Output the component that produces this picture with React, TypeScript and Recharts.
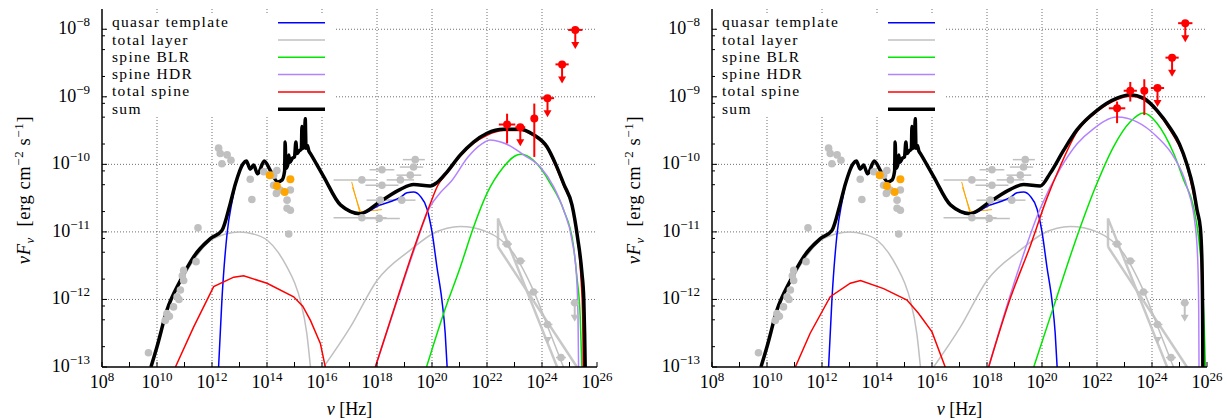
import {
  CartesianGrid,
  ComposedChart,
  ErrorBar,
  Line,
  Scatter,
  XAxis,
  YAxis,
} from 'recharts'

// all values are log10: x = log10(nu / Hz), y = log10(nu F_nu / erg cm^-2 s^-1)
type XY = [number, number]

const FONT = '"Liberation Serif", "Times New Roman", serif'

const xTicks = [8, 9, 10, 11, 12, 13, 14, 15, 16, 17, 18, 19, 20, 21, 22, 23, 24, 25, 26]
const xGrid = [10, 12, 14, 16, 18, 20, 22, 24]
const yMajor = [-13, -12, -11, -10, -9, -8]
const yGrid = [-12, -11, -10, -9, -8]
const yMinorMantissa = [2, 5, 8]
const yTicks = yMajor
  .flatMap((m) => [m, ...yMinorMantissa.map((k) => m + Math.log10(k))])
  .filter((v) => v < -7.75)

const legendNames = ['quasar template', 'total layer', 'spine BLR', 'spine HDR', 'total spine', 'sum']
const legendColors = ['#0000ff', '#c0c0c0', '#00e600', '#b482ff', '#ff0000', '#000000']

// shared model curves (same in both panels)
const quasarTemplate: XY[] = [
  [12.24, -13.0], [12.36, -12.01], [12.55, -11.02], [12.73, -10.55], [12.85, -10.31], [13.13, -10.01],
  [13.25, -9.97], [13.39, -10.08], [13.51, -10.03], [13.66, -10.15], [13.9, -9.96], [14.12, -10.1],
  [14.39, -10.27], [14.55, -10.24], [14.64, -10.11], [14.66, -9.69], [14.69, -10.07], [14.76, -10.01],
  [14.79, -9.87], [14.83, -9.98], [14.92, -9.92], [15.0, -9.9], [15.05, -9.68], [15.09, -9.85],
  [15.17, -9.81], [15.25, -9.78], [15.27, -9.45], [15.3, -9.77], [15.36, -9.75], [15.39, -9.33],
  [15.42, -9.77], [15.47, -9.73], [15.52, -9.81], [15.58, -9.85], [16.06, -10.19], [16.67, -10.61],
  [17.39, -10.74], [18.12, -10.6], [18.5, -10.55], [18.85, -10.49], [19.09, -10.42], [19.33, -10.41],
  [19.57, -10.47], [19.82, -10.66], [20.0, -11.0], [20.18, -11.52], [20.36, -12.01], [20.48, -12.5],
  [20.55, -13.0],
]
const layerSync: XY[] = [
  [9.78, -13.02], [10.0, -12.72], [10.36, -12.18], [10.85, -11.75], [11.33, -11.42], [11.94, -11.13],
  [12.5, -11.03], [13.0, -11.0], [13.5, -11.03], [14.0, -11.12], [14.4, -11.3], [14.73, -11.52],
  [15.0, -11.75], [15.21, -12.01], [15.45, -12.51], [15.58, -13.0],
]
const layerIC: XY[] = [
  [16.06, -13.0], [17.03, -12.41], [18.0, -11.72], [19.21, -11.27], [20.06, -11.02], [21.03, -10.92],
  [22.0, -11.0], [22.97, -11.32], [23.69, -11.87], [24.3, -12.5], [24.78, -13.0],
]
const sumShared: XY[] = [
  [9.78, -13.0], [10.0, -12.7], [10.36, -12.16], [10.85, -11.72], [11.33, -11.37], [11.94, -11.1],
  [12.36, -10.98], [12.67, -10.57], [12.85, -10.29], [13.13, -9.99], [13.25, -9.95], [13.39, -10.07],
  [13.51, -10.01], [13.66, -10.14], [13.9, -9.95], [14.12, -10.09], [14.39, -10.26], [14.55, -10.23],
  [14.64, -10.1], [14.66, -9.67], [14.69, -10.06], [14.76, -10.0], [14.79, -9.86], [14.83, -9.97],
  [14.92, -9.91], [15.0, -9.89], [15.05, -9.67], [15.09, -9.84], [15.17, -9.8], [15.25, -9.77],
  [15.27, -9.44], [15.3, -9.76], [15.36, -9.74], [15.39, -9.32], [15.42, -9.76], [15.47, -9.72],
  [15.52, -9.8], [15.58, -9.84], [16.06, -10.18], [16.67, -10.6], [17.39, -10.73], [18.12, -10.55],
  [18.85, -10.37], [19.33, -10.3], [19.94, -10.32],
]

// left panel
const sumHighA: XY[] = [
  [20.18, -10.27], [20.55, -10.11], [21.03, -9.86], [21.51, -9.67], [22.0, -9.54], [22.6, -9.48],
  [23.21, -9.48], [23.69, -9.56], [24.18, -9.74], [24.5, -10.0], [24.8, -10.3], [25.09, -10.6],
  [25.3, -11.1], [25.45, -11.6], [25.52, -12.0], [25.55, -12.5], [25.57, -13.0],
]
const spineLowA: XY[] = [
  [10.67, -13.0], [11.33, -12.41], [12.06, -11.81], [12.79, -11.67], [13.15, -11.65], [14.0, -11.76],
  [14.97, -11.96], [15.3, -12.1], [15.58, -12.31], [15.94, -12.65], [16.12, -13.0],
]
const spineHighA: XY[] = [
  [17.94, -13.0], [18.73, -12.0], [19.33, -11.26], [19.94, -10.58], [20.2, -10.32], [20.55, -10.13],
  [21.03, -9.88], [21.51, -9.69], [22.0, -9.57], [22.6, -9.5], [23.21, -9.5], [23.69, -9.58],
  [24.18, -9.76], [24.5, -10.03], [24.8, -10.33], [25.09, -10.62], [25.3, -11.12], [25.42, -11.7],
  [25.48, -12.3], [25.5, -13.0],
]
const hdrA: XY[] = [
  [17.94, -13.0], [18.73, -12.02], [19.33, -11.29], [19.94, -10.62], [20.3, -10.42], [20.7, -10.25],
  [21.31, -9.89], [21.8, -9.7], [22.12, -9.64], [22.5, -9.67], [22.9, -9.74], [23.33, -9.86],
  [23.94, -10.04], [24.42, -10.33], [24.79, -10.68], [25.09, -11.12], [25.25, -11.62], [25.31, -12.26],
  [25.33, -13.0],
]
const blrA: XY[] = [
  [19.8, -13.0], [20.42, -12.21], [21.03, -11.52], [21.51, -10.93], [22.0, -10.43], [22.6, -10.04],
  [23.0, -9.88], [23.21, -9.85], [23.45, -9.87], [23.69, -9.94], [24.3, -10.28], [24.79, -10.68],
  [25.13, -11.17], [25.27, -11.67], [25.39, -12.26], [25.45, -13.0],
]
// red gamma-ray points: x, y, x-err, y-err low, y-err high
const redPtsA: [number, number, number, number, number][] = [
  [22.73, -9.41, 0.3, 0.28, 0.16],
  [23.72, -9.32, 0.12, 0.57, 0.22],
]
const redUlA: [number, number, number][] = [
  [23.21, -9.45, 0.18], [24.2, -9.02, 0.24], [24.73, -8.52, 0.24], [25.21, -8.01, 0.26],
]

// right panel
const sumHighB: XY[] = [
  [20.3, -10.13], [20.79, -9.79], [21.27, -9.49], [22.0, -9.2], [22.73, -9.02], [23.21, -8.97],
  [23.69, -9.02], [24.18, -9.2], [24.67, -9.47], [25.0, -9.7], [25.27, -10.0], [25.5, -10.35],
  [25.64, -10.68], [25.76, -10.95], [25.82, -11.5], [25.84, -12.2], [25.85, -13.0],
]
const spineLowB: XY[] = [
  [11.03, -13.0], [11.57, -12.5], [12.3, -11.96], [13.03, -11.76], [13.4, -11.72], [14.24, -11.84],
  [15.09, -12.01], [15.5, -12.2], [16.0, -12.48], [16.48, -13.0],
]
const spineHighB: XY[] = [
  [18.06, -13.0], [18.85, -11.98], [19.58, -11.2], [20.18, -10.5], [20.67, -10.02], [21.27, -9.52],
  [22.0, -9.22], [22.73, -9.04], [23.21, -8.99], [23.69, -9.04], [24.18, -9.22], [24.67, -9.5],
  [25.27, -10.03], [25.64, -10.72], [25.76, -11.0], [25.8, -11.6], [25.82, -12.3], [25.83, -13.0],
]
const hdrB: XY[] = [
  [18.06, -13.0], [18.85, -11.93], [19.94, -10.65], [20.67, -10.06], [21.27, -9.7], [21.88, -9.47],
  [22.73, -9.3], [23.45, -9.37], [24.18, -9.59], [24.79, -9.89], [25.27, -10.33], [25.58, -10.93],
  [25.67, -11.5], [25.7, -12.2], [25.71, -13.0],
]
const blrB: XY[] = [
  [19.7, -13.0], [20.42, -12.11], [21.27, -11.07], [22.0, -10.28], [22.6, -9.74], [23.21, -9.37],
  [23.69, -9.24], [24.18, -9.39], [24.79, -9.84], [25.15, -10.23], [25.51, -10.63], [25.69, -11.07],
  [25.82, -11.67], [25.9, -12.41], [25.94, -13.0],
]
const redPtsB: [number, number, number, number, number][] = [
  [22.73, -9.17, 0.3, 0.22, 0.1],
  [23.21, -8.91, 0.24, 0.16, 0.13],
  [23.72, -8.91, 0.12, 0.36, 0.17],
]
const redUlB: [number, number, number][] = [
  [24.2, -8.87, 0.24], [24.73, -8.42, 0.24], [25.21, -7.91, 0.26],
]

// archival data (same in both panels)
const grayPts: XY[] = [
  [9.69, -12.79], [10.3, -12.31], [10.36, -12.21], [10.45, -12.25], [10.6, -12.11], [10.73, -11.96],
  [10.8, -12.0], [10.85, -11.86], [10.92, -11.65], [10.97, -11.72], [10.97, -11.57], [11.42, -11.44],
  [11.49, -10.94], [12.24, -9.76], [12.3, -9.84], [12.36, -9.99], [12.55, -9.86], [12.69, -9.94],
  [13.39, -10.22], [13.45, -10.52], [13.88, -10.11], [14.24, -10.16], [14.36, -10.09], [14.24, -10.31],
  [14.34, -10.43], [14.48, -10.38], [14.85, -10.38], [14.73, -10.53], [14.73, -10.65], [14.85, -10.68],
  [14.79, -11.03],
]
const orangePts: XY[] = [[14.1, -10.16], [14.36, -10.32], [14.64, -10.41], [14.85, -10.22]]
const orangeBowA: XY[] = [[17.08, -10.26], [17.38, -10.72], [18.18, -10.6]]
const orangeBowB: XY[] = [[17.11, -10.34], [17.4, -10.7], [18.18, -10.67]]
// x-ray points: x, y, x-err low, x-err high
const xrayPts: [number, number, number, number][] = [
  [17.45, -10.23, 1.03, 0.55], [17.45, -10.79, 1.03, 0.9], [18.08, -10.8, 0.6, 0.75],
  [18.18, -10.08, 0.45, 0.45], [18.18, -10.31, 0.6, 0.6], [18.12, -10.53, 0.5, 0.5],
  [18.85, -10.23, 0.5, 0.5], [18.9, -10.53, 0.5, 0.5], [19.21, -10.16, 0.5, 0.4],
  [19.33, -10.04, 0.5, 0.35], [19.39, -9.93, 0.45, 0.35],
]
const gammaPts: [number, number, number][] = [
  [22.73, -11.18, 0.18], [23.21, -11.43, 0.18], [23.69, -11.89, 0.18], [24.2, -12.37, 0.18], [24.69, -12.86, 0.18],
]
const gammaUl: [number, number, number][] = [[25.19, -12.05, 0.15]]
const gammaTri: XY[] = [[24.2, -12.6]]
const bowtieUpper: XY[] = [[22.4, -11.22], [22.4, -10.8], [24.55, -13.0]]
const bowtieLower: XY[] = [[22.4, -11.22], [25.27, -13.0]]

const toPts = (a: XY[]) => a.map(([x, y]) => ({ x, y }))

function BottomTick(p: any) {
  const v = p.payload.value
  return (
    <g>
      <line x1={p.x} y1={p.y} x2={p.x} y2={p.y - 5} stroke="#000" />
      {v % 2 === 0 ? (
        <text x={p.x} y={p.y + 21} textAnchor="middle" fontFamily={FONT} fontSize={18} fill="#000">
          10<tspan dy={-7} fontSize={13}>{v}</tspan>
        </text>
      ) : null}
    </g>
  )
}

function TopTick(p: any) {
  return <line x1={p.x} y1={p.y} x2={p.x} y2={p.y + 5} stroke="#000" />
}

function LeftTick(p: any) {
  const v = p.payload.value
  const major = Number.isInteger(v)
  return (
    <g>
      <line x1={p.x} y1={p.y} x2={p.x + (major ? 5 : 3)} y2={p.y} stroke="#000" />
      {major ? (
        <text x={p.x - 12} y={p.y + 5} textAnchor="end" fontFamily={FONT} fontSize={18} fill="#000">
          10<tspan dy={-8} fontSize={13}>{'\u2212' + Math.abs(v)}</tspan>
        </text>
      ) : null}
    </g>
  )
}

function RightTick(p: any) {
  const major = Number.isInteger(p.payload.value)
  return <line x1={p.x} y1={p.y} x2={p.x - (major ? 5 : 3)} y2={p.y} stroke="#000" />
}

function dotShape(color: string, r: number) {
  return (p: any) => <circle cx={p.cx} cy={p.cy} r={r} fill={color} />
}

function ulShape(color: string, r: number) {
  return (p: any) => (
    <g>
      <line x1={p.cx} y1={p.cy} x2={p.cx} y2={p.cy + 14} stroke={color} strokeWidth={2} />
      <path d={`M${p.cx - 4},${p.cy + 12} L${p.cx + 4},${p.cy + 12} L${p.cx},${p.cy + 19} Z`} fill={color} />
      <circle cx={p.cx} cy={p.cy} r={r} fill={color} />
    </g>
  )
}

function triShape(color: string) {
  return (p: any) => (
    <path d={`M${p.cx - 4},${p.cy - 3} L${p.cx + 4},${p.cy - 3} L${p.cx},${p.cy + 4} Z`} fill={color} />
  )
}

function curve(data: XY[], color: string, width: number, type: 'monotone' | 'linear' = 'monotone') {
  return (
    <Line
      data={toPts(data)}
      dataKey="y"
      type={type}
      stroke={color}
      strokeWidth={width}
      dot={false}
      activeDot={false}
      isAnimationActive={false}
    />
  )
}

type PanelProps = {
  left: number
  width: number
  marginRight: number
  sumHigh: XY[]
  spineLow: XY[]
  spineHigh: XY[]
  hdr: XY[]
  blr: XY[]
  redPts: [number, number, number, number, number][]
  redUl: [number, number, number][]
}

function Panel(props: PanelProps) {
  const { left, width, marginRight } = props
  const plotLeft = 102
  const plotRight = width - marginRight
  const sum = [...sumShared, ...props.sumHigh]
  const gray = '#c0c0c0'

  return (
    <div style={{ position: 'absolute', left, top: 0, width, height: 420 }}>
      <ComposedChart width={width} height={420} margin={{ top: 9, right: marginRight, bottom: 0, left: 0 }}>
        <CartesianGrid
          stroke="#6e6e6e"
          strokeDasharray="1 2"
          verticalValues={xGrid}
          horizontalValues={yGrid}
        />
        <XAxis
          type="number"
          dataKey="x"
          domain={[8, 26]}
          ticks={xTicks}
          interval={0}
          allowDataOverflow
          height={53}
          tickSize={0}
          tickMargin={0}
          tickLine={false}
          axisLine={{ stroke: '#000', strokeWidth: 1.5 }}
          tick={BottomTick}
        />
        <XAxis
          xAxisId="t"
          orientation="top"
          type="number"
          dataKey="x"
          domain={[8, 26]}
          ticks={xTicks}
          interval={0}
          allowDataOverflow
          height={0}
          tickSize={0}
          tickMargin={0}
          tickLine={false}
          axisLine={{ stroke: '#000', strokeWidth: 1.5 }}
          tick={TopTick}
        />
        <YAxis
          type="number"
          domain={[-13, -7.7]}
          ticks={yTicks}
          interval={0}
          allowDataOverflow
          width={plotLeft}
          tickSize={0}
          tickMargin={0}
          tickLine={false}
          axisLine={{ stroke: '#000', strokeWidth: 1.5 }}
          tick={LeftTick}
        />
        <YAxis
          yAxisId="r"
          orientation="right"
          type="number"
          domain={[-13, -7.7]}
          ticks={yTicks}
          interval={0}
          allowDataOverflow
          width={0}
          tickSize={0}
          tickMargin={0}
          tickLine={false}
          axisLine={{ stroke: '#000', strokeWidth: 1.5 }}
          tick={RightTick}
        />

        <Scatter data={toPts(grayPts)} dataKey="y" shape={dotShape(gray, 3.8)} isAnimationActive={false} />
        <Scatter
          data={xrayPts.map(([x, y, lo, hi]) => ({ x, y, ex: [lo, hi] }))}
          dataKey="y"
          shape={dotShape(gray, 3.8)}
          isAnimationActive={false}
        >
          <ErrorBar dataKey="ex" direction="x" width={0} stroke={gray} strokeWidth={1.5} />
        </Scatter>
        {curve(bowtieUpper, '#c8c8c8', 2.5, 'linear')}
        {curve(bowtieLower, '#c8c8c8', 2.5, 'linear')}
        <Scatter
          data={gammaPts.map(([x, y, e]) => ({ x, y, ex: e }))}
          dataKey="y"
          shape={dotShape(gray, 3.8)}
          isAnimationActive={false}
        >
          <ErrorBar dataKey="ex" direction="x" width={0} stroke={gray} strokeWidth={1.5} />
        </Scatter>
        <Scatter
          data={gammaUl.map(([x, y, e]) => ({ x, y, ex: e }))}
          dataKey="y"
          shape={ulShape(gray, 3.8)}
          isAnimationActive={false}
        >
          <ErrorBar dataKey="ex" direction="x" width={0} stroke={gray} strokeWidth={1.5} />
        </Scatter>
        <Scatter data={toPts(gammaTri)} dataKey="y" shape={triShape(gray)} isAnimationActive={false} />
        <Scatter data={toPts(orangePts)} dataKey="y" shape={dotShape('#ffa500', 4)} isAnimationActive={false} />
        {curve(orangeBowA, '#ffa500', 1, 'linear')}
        {curve(orangeBowB, '#ffa500', 1, 'linear')}

        {curve(layerSync, gray, 1.5)}
        {curve(layerIC, gray, 1.5)}
        {curve(quasarTemplate, '#0000ff', 1.5)}
        {curve(props.blr, legendColors[2], 1.5)}
        {curve(props.hdr, legendColors[3], 1.5)}
        {curve(props.spineLow, '#ff0000', 1.5, 'linear')}
        {curve(props.spineHigh, '#ff0000', 1.5)}
        {curve(sum, '#000000', 3.5)}

        <Scatter
          data={props.redPts.map(([x, y, ex, lo, hi]) => ({ x, y, ex, ey: [lo, hi] }))}
          dataKey="y"
          shape={dotShape('#ff0000', 4)}
          isAnimationActive={false}
        >
          <ErrorBar dataKey="ex" direction="x" width={0} stroke="#ff0000" strokeWidth={2} />
          <ErrorBar dataKey="ey" direction="y" width={0} stroke="#ff0000" strokeWidth={2} />
        </Scatter>
        <Scatter
          data={props.redUl.map(([x, y, ex]) => ({ x, y, ex }))}
          dataKey="y"
          shape={ulShape('#ff0000', 4)}
          isAnimationActive={false}
        >
          <ErrorBar dataKey="ex" direction="x" width={0} stroke="#ff0000" strokeWidth={2} />
        </Scatter>
      </ComposedChart>

      <svg
        width={width}
        height={420}
        style={{ position: 'absolute', left: 0, top: 0, pointerEvents: 'none' }}
        fontFamily={FONT}
      >
        <rect x={plotLeft + 6} y={15} width={227} height={102} fill="#fff" />
        {legendNames.map((name, i) => {
          const cy = 22.7 + i * 17.3
          return (
            <g key={name}>
              <text x={plotLeft + 10} y={cy + 4.5} fontSize={15.5} letterSpacing={1.3} fill="#000">
                {name}
              </text>
              <line
                x1={278}
                x2={325}
                y1={cy}
                y2={cy}
                stroke={legendColors[i]}
                strokeWidth={i === 5 ? 3.5 : 1.5}
              />
            </g>
          )
        })}
        <text
          x={(plotLeft + plotRight) / 2}
          y={415}
          textAnchor="middle"
          fontSize={18}
          fill="#000"
          style={{ whiteSpace: 'pre' }}
        >
          <tspan fontStyle="italic">ν</tspan>
          <tspan> [Hz]</tspan>
        </text>
        <text
          transform="translate(30,190) rotate(-90)"
          textAnchor="middle"
          fontSize={18.5}
          letterSpacing={0.6}
          fill="#000"
          style={{ whiteSpace: 'pre' }}
        >
          <tspan fontStyle="italic">νF</tspan>
          <tspan dy={4} fontSize={13} fontStyle="italic">ν</tspan>
          <tspan dy={-4}>  [erg cm</tspan>
          <tspan dy={-7} fontSize={13}>{'\u22122'}</tspan>
          <tspan dy={7}> s</tspan>
          <tspan dy={-7} fontSize={13}>{'\u22121'}</tspan>
          <tspan dy={7}>]</tspan>
        </text>
      </svg>
    </div>
  )
}

export default function App() {
  return (
    <div
      style={{
        position: 'absolute',
        left: 0,
        top: 0,
        width: 1227,
        height: 420,
        background: '#fff',
        overflow: 'hidden',
      }}
    >
      <Panel
        left={0}
        width={625}
        marginRight={28}
        sumHigh={sumHighA}
        spineLow={spineLowA}
        spineHigh={spineHighA}
        hdr={hdrA}
        blr={blrA}
        redPts={redPtsA}
        redUl={redUlA}
      />
      <Panel
        left={610}
        width={617}
        marginRight={20}
        sumHigh={sumHighB}
        spineLow={spineLowB}
        spineHigh={spineHighB}
        hdr={hdrB}
        blr={blrB}
        redPts={redPtsB}
        redUl={redUlB}
      />
    </div>
  )
}
